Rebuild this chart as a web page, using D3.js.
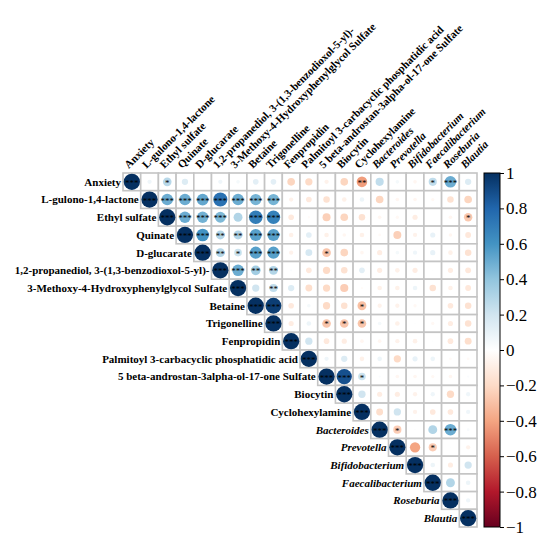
<!DOCTYPE html>
<html>
<head>
<meta charset="utf-8">
<script src="https://cdn.jsdelivr.net/npm/d3@7"></script>
<style>
  body { margin: 0; background: #fff; }
  svg { display: block; }
</style>
</head>
<body>
<script>
// variables, in plot order (rows = columns)
var variables = [
  "Anxiety", "L-gulono-1,4-lactone", "Ethyl sulfate", "Quinate", "D-glucarate",
  "1,2-propanediol, 3-(1,3-benzodioxol-5-yl)-", "3-Methoxy-4-Hydroxyphenylglycol Sulfate",
  "Betaine", "Trigonelline", "Fenpropidin", "Palmitoyl 3-carbacyclic phosphatidic acid",
  "5 beta-androstan-3alpha-ol-17-one Sulfate", "Biocytin", "Cyclohexylamine",
  "Bacteroides", "Prevotella", "Bifidobacterium", "Faecalibacterium", "Roseburia", "Blautia"
];
// bacteria are written in italics
var italicVars = ["Bacteroides", "Prevotella", "Bifidobacterium", "Faecalibacterium", "Roseburia", "Blautia"];

// upper triangle, row i holds r for columns i+1 .. 19 (diagonal = 1)
var corrUpper = [
  [0.07, 0.28, 0.15, 0.01, 0.07, 0.05, 0.12, 0.12, -0.22, -0.2, -0.07, -0.22, -0.42, 0.25, 0.05, -0.05, 0.25, 0.5, 0.15],
  [0.5, 0.5, 0.52, 0.75, 0.5, 0.47, 0.47, -0.07, -0.12, -0.16, -0.08, 0.08, -0.22, -0.05, -0.05, -0.04, -0.16, -0.22],
  [0.5, 0.48, 0.45, 0.3, 0.7, 0.68, -0.12, -0.02, -0.24, -0.22, -0.16, -0.05, -0.04, -0.1, 0, -0.05, -0.27],
  [0.6, 0.3, 0.3, 0.55, 0.55, -0.08, 0.12, -0.08, -0.05, -0.08, -0.03, -0.24, -0.07, 0.1, -0.05, -0.13],
  [0.3, 0.22, 0.55, 0.55, -0.07, 0.18, -0.28, -0.22, -0.05, -0.1, 0.05, 0.07, 0.1, -0.08, -0.16],
  [0.5, 0.35, 0.3, 0.02, -0.12, -0.2, -0.16, 0.12, -0.1, -0.08, -0.1, 0.01, -0.1, -0.13],
  [0.2, 0.25, 0.15, -0.18, -0.2, -0.25, -0.02, -0.08, -0.08, 0.08, -0.16, -0.08, -0.13],
  [0.95, -0.12, 0.05, -0.2, -0.16, -0.3, -0.07, -0.07, -0.04, 0, -0.12, -0.16],
  [-0.1, 0.08, -0.28, -0.28, -0.28, 0.05, -0.08, 0.01, -0.04, -0.1, -0.16],
  [0.2, -0.12, -0.1, -0.05, -0.05, -0.07, -0.08, 0.01, -0.12, -0.18],
  [0.07, 0.15, -0.08, 0.08, -0.2, 0.1, 0.08, -0.03, -0.03],
  [0.88, 0.22, 0.02, -0.05, -0.05, -0.04, -0.05, 0.02],
  [0.2, -0.1, -0.1, -0.07, 0.07, -0.2, 0.07],
  [-0.18, 0.2, -0.07, -0.12, -0.12, 0.07],
  [-0.25, 0.01, 0.3, 0.5, 0.03],
  [-0.4, -0.25, 0.01, -0.07],
  [0.08, -0.1, 0.2],
  [0.3, 0.08],
  [0.07]
];
// significance labels, same layout
var sigUpper = [
  ["", "*", "", "", "", "", "", "", "", "", "", "", "**", "", "", "", "*", "***", ""],
  ["***", "***", "***", "***", "***", "***", "***", "", "", "", "", "", "", "", "", "", "", ""],
  ["***", "***", "***", "", "***", "***", "", "", "", "", "", "", "", "", "", "", "*"],
  ["***", "**", "**", "***", "***", "", "", "", "", "", "", "", "", "", "", ""],
  ["**", "*", "***", "***", "", "", "*", "", "", "", "", "", "", "", ""],
  ["***", "**", "**", "", "", "", "", "", "", "", "", "", "", ""],
  ["", "**", "", "", "", "", "", "", "", "", "", "", ""],
  ["***", "", "", "", "", "*", "", "", "", "", "", ""],
  ["", "", "*", "*", "*", "", "", "", "", "", ""],
  ["", "", "", "", "", "", "", "", "", ""],
  ["", "", "", "", "", "", "", "", ""],
  ["***", "*", "", "", "", "", "", ""],
  ["", "", "", "", "", "", ""],
  ["", "", "", "", "", ""],
  ["*", "", "", "***", ""],
  ["", "*", "", ""],
  ["", "", ""],
  ["", ""],
  [""]
];
var barTicks = [1, 0.8, 0.6, 0.4, 0.2, 0, -0.2, -0.4, -0.6, -0.8, -1];
var palette = ["#67001F", "#B2182B", "#D6604D", "#F4A582", "#FDDBC7", "#FFFFFF",
               "#D1E5F0", "#92C5DE", "#4393C3", "#2166AC", "#053061"];

var width = 555, height = 544;
var grid = {left: 123, top: 173, size: 354};

// flatten to cells
var cells = [];
variables.forEach(function(v, i) {
  cells.push({row: v, col: v, r: 1, sig: "***"});
  (corrUpper[i] || []).forEach(function(r, k) {
    cells.push({row: v, col: variables[i + 1 + k], r: r, sig: sigUpper[i][k]});
  });
});

var x = d3.scaleBand().domain(variables).range([grid.left, grid.left + grid.size]);
var y = d3.scaleBand().domain(variables).range([grid.top, grid.top + grid.size]);
var color = d3.scaleLinear().domain(d3.range(11).map(function(i) { return -1 + i * 0.2; })).range(palette);
var radius = d3.scaleSqrt().domain([0, 1]).range([0, 0.46 * x.bandwidth()]);

var svg = d3.select("body").append("svg")
    .attr("width", width)
    .attr("height", height);

var font = "'Liberation Serif', 'Times New Roman', serif";
function isItalic(v) { return italicVars.indexOf(v) >= 0; }

// cell frames
svg.append("g").selectAll("rect")
    .data(cells)
  .enter().append("rect")
    .attr("x", function(d) { return x(d.col); })
    .attr("y", function(d) { return y(d.row); })
    .attr("width", x.bandwidth())
    .attr("height", y.bandwidth())
    .attr("fill", "#fff")
    .attr("stroke", "#c4c4c4")
    .attr("stroke-width", 1.6);

// circles
svg.append("g").selectAll("circle")
    .data(cells)
  .enter().append("circle")
    .attr("cx", function(d) { return x(d.col) + x.bandwidth() / 2; })
    .attr("cy", function(d) { return y(d.row) + y.bandwidth() / 2; })
    .attr("r", function(d) { return radius(Math.abs(d.r)); })
    .attr("fill", function(d) { return color(d.r); });

// significance stars
svg.append("g").selectAll("text")
    .data(cells.filter(function(d) { return d.sig; }))
  .enter().append("text")
    .attr("x", function(d) { return x(d.col) + x.bandwidth() / 2; })
    .attr("y", function(d) { return y(d.row) + y.bandwidth() / 2 + 4; })
    .attr("text-anchor", "middle")
    .style("font-family", font)
    .style("font-size", "9px")
    .attr("fill", "#000")
    .text(function(d) { return d.sig; });

// row labels
svg.append("g").selectAll("text")
    .data(variables)
  .enter().append("text")
    .attr("x", function(d) { return x(d) - 2; })
    .attr("y", function(d) { return y(d) + y.bandwidth() / 2; })
    .attr("dy", "0.35em")
    .attr("text-anchor", "end")
    .style("font-family", font)
    .style("font-size", "11px")
    .style("font-weight", "bold")
    .style("font-style", function(d) { return isItalic(d) ? "italic" : "normal"; })
    .text(function(d) { return d; });

// column labels
svg.append("g").selectAll("text")
    .data(variables)
  .enter().append("text")
    .attr("transform", function(d) {
      return "translate(" + (x(d) + x.bandwidth() / 2 - 3) + "," + (grid.top - 4) + ") rotate(-45)";
    })
    .attr("text-anchor", "start")
    .style("font-family", font)
    .style("font-size", "11px")
    .style("font-weight", "bold")
    .style("font-style", function(d) { return isItalic(d) ? "italic" : "normal"; })
    .text(function(d) { return d; });

// colour bar
var bar = {x: 484, w: 16};
var yBar = d3.scaleLinear().domain([-1, 1]).range([grid.top + grid.size, grid.top]);
var defs = svg.append("defs");
var grad = defs.append("linearGradient")
    .attr("id", "cbar")
    .attr("x1", 0).attr("y1", 1).attr("x2", 0).attr("y2", 0);
palette.forEach(function(c, i) {
  grad.append("stop").attr("offset", (i / 10)).attr("stop-color", c);
});
svg.append("rect")
    .attr("x", bar.x)
    .attr("y", grid.top)
    .attr("width", bar.w)
    .attr("height", grid.size)
    .attr("fill", "url(#cbar)")
    .attr("stroke", "#000")
    .attr("stroke-width", 1);

var barAxis = svg.append("g")
    .attr("transform", "translate(" + (bar.x + bar.w) + ",0)")
    .call(d3.axisRight(yBar).tickValues(barTicks).tickSize(4).tickFormat(d3.format("")));
barAxis.select(".domain").remove();
barAxis.selectAll("text")
    .style("font-family", font)
    .style("font-size", "17px")
    .attr("fill", "#000")
    .attr("x", 6);
</script>
</body>
</html>
